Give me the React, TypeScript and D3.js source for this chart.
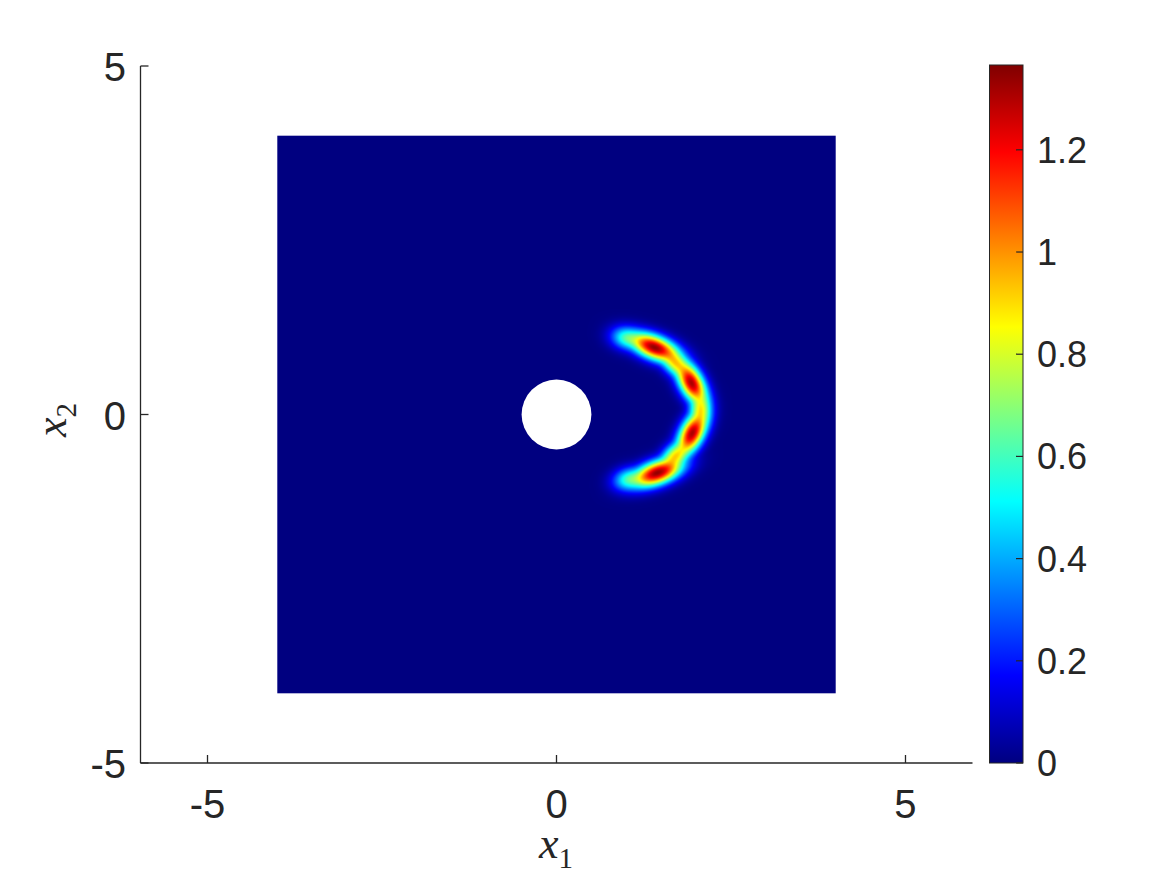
import React, { useMemo } from "react";
import * as d3 from "d3";

// ---- data ----
const xTicks = [-5, 0, 5];
const yTicks = [-5, 0, 5];
const cTicks = [0, 0.2, 0.4, 0.6, 0.8, 1, 1.2];
const xDomain = [-5.96, 5.96];
const yDomain = [-5, 5];
const cDomain = [0, 1.366];
const fieldExtent = [-4, 4];
const holeRadius = 0.5;

// ridge features (anisotropic gaussian bumps) read along the crescent
const blobX = [1.02, 1.4, 1.7, 1.93, 2.06, 1.94, 1.7, 1.44, 1.05];
const blobY = [1.09, 0.96, 0.74, 0.45, 0.07, -0.27, -0.6, -0.84, -0.93];
const blobAmp = [0.62, 1.34, 0.9, 1.31, 0.86, 1.31, 0.9, 1.34, 0.62];
const blobAngle = [-12, -22, -45, -62, -90, -117, -135, -160, -168];
const blobLong = [0.17, 0.27, 0.2, 0.24, 0.2, 0.24, 0.2, 0.27, 0.17];
const blobShort = [0.115, 0.12, 0.115, 0.12, 0.115, 0.12, 0.115, 0.12, 0.115];

const jetStops = [0, 0.125, 0.375, 0.625, 0.875, 1];
const jetColors = ["#000080", "#0000ff", "#00ffff", "#ffff00", "#ff0000", "#800000"];

const W = 1167;
const H = 875;
const axisColor = "#262626";
const sans = "'Liberation Sans', Arial, Helvetica, sans-serif";
const serif = "'Liberation Serif', 'DejaVu Serif', serif";

function fieldValue(px: number, py: number): number {
  let s = 0;
  for (let i = 0; i < blobX.length; i++) {
    const dx = px - blobX[i];
    const dy = py - blobY[i];
    const a = (blobAngle[i] * Math.PI) / 180;
    const u = dx * Math.cos(a) + dy * Math.sin(a);
    const v = -dx * Math.sin(a) + dy * Math.cos(a);
    const g =
      blobAmp[i] *
      Math.exp(-0.5 * ((u * u) / (blobLong[i] * blobLong[i]) + (v * v) / (blobShort[i] * blobShort[i])));
    s += g * g * g;
  }
  return Math.cbrt(s);
}

export default function App() {
  const x = d3.scaleLinear().domain(xDomain).range([140.5, 972.5]);
  const y = d3.scaleLinear().domain(yDomain).range([763, 66]);
  const c = d3.scaleLinear().domain(cDomain).range([763, 65]);
  const jet = d3
    .scaleLinear<string>()
    .domain(jetStops)
    .range(jetColors)
    .interpolate(d3.interpolateRgb)
    .clamp(true);

  const x0 = x(fieldExtent[0]);
  const x1 = x(fieldExtent[1]);
  const y0 = y(fieldExtent[1]);
  const y1 = y(fieldExtent[0]);

  const url = useMemo(() => {
    const w = Math.round(x1 - x0);
    const h = Math.round(y1 - y0);
    const canvas = document.createElement("canvas");
    canvas.width = w;
    canvas.height = h;
    const ctx = canvas.getContext("2d");
    if (!ctx) return "";
    const img = ctx.createImageData(w, h);
    const lut: number[][] = [];
    for (let k = 0; k < 512; k++) {
      const col = d3.rgb(jet(k / 511));
      lut.push([col.r, col.g, col.b]);
    }
    for (let j = 0; j < h; j++) {
      const py = y.invert(y0 + j + 0.5);
      for (let i = 0; i < w; i++) {
        const px = x.invert(x0 + i + 0.5);
        const val = fieldValue(px, py);
        const t = Math.max(0, Math.min(1, val / cDomain[1]));
        const col = lut[Math.round(t * 511)];
        const o = (j * w + i) * 4;
        img.data[o] = col[0];
        img.data[o + 1] = col[1];
        img.data[o + 2] = col[2];
        img.data[o + 3] = 255;
      }
    }
    ctx.putImageData(img, 0, 0);
    return canvas.toDataURL();
  }, []);

  const cbLeft = 989.5;
  const cbRight = 1023;
  const tickLen = 8;

  return (
    <svg
      width={W}
      height={H}
      style={{ position: "absolute", left: 0, top: 0, background: "#fff" }}
    >
      <defs>
        <linearGradient id="jetGrad" x1="0" y1="1" x2="0" y2="0">
          {jetStops.map((s, i) => (
            <stop key={i} offset={s} stopColor={jetColors[i]} />
          ))}
        </linearGradient>
      </defs>

      {/* heatmap */}
      <image
        href={url}
        x={x0}
        y={y0}
        width={x1 - x0}
        height={y1 - y0}
        preserveAspectRatio="none"
      />
      <circle cx={x(0)} cy={y(0)} r={x(holeRadius) - x(0)} fill="#fff" />

      {/* axes */}
      <line x1={x(xDomain[0])} x2={x(xDomain[1])} y1={y(yDomain[0])} y2={y(yDomain[0])} stroke={axisColor} strokeWidth={1.3} />
      <line x1={x(xDomain[0])} x2={x(xDomain[0])} y1={y(yDomain[0])} y2={y(yDomain[1])} stroke={axisColor} strokeWidth={1.3} />

      {xTicks.map((t) => (
        <g key={"xt" + t}>
          <line x1={x(t)} x2={x(t)} y1={y(yDomain[0])} y2={y(yDomain[0]) - tickLen} stroke={axisColor} strokeWidth={1.3} />
          <text x={x(t)} y={818} textAnchor="middle" fontFamily={sans} fontSize={40} fill={axisColor}>
            {t}
          </text>
        </g>
      ))}
      {yTicks.map((t) => (
        <g key={"yt" + t}>
          <line x1={x(xDomain[0])} x2={x(xDomain[0]) + tickLen} y1={y(t)} y2={y(t)} stroke={axisColor} strokeWidth={1.3} />
          <text x={126} y={y(t) + 15} textAnchor="end" fontFamily={sans} fontSize={40} fill={axisColor}>
            {t}
          </text>
        </g>
      ))}

      {/* axis labels */}
      <text x={556} y={858} textAnchor="middle" fontFamily={serif} fontSize={44} fill={axisColor}>
        <tspan fontStyle="italic">x</tspan>
        <tspan fontSize={29} dy={10}>1</tspan>
      </text>
      <text
        transform={`translate(66, 420) rotate(-90)`}
        textAnchor="middle"
        fontFamily={serif}
        fontSize={44}
        fill={axisColor}
      >
        <tspan fontStyle="italic">x</tspan>
        <tspan fontSize={29} dy={10}>2</tspan>
      </text>

      {/* colorbar */}
      <rect x={cbLeft} y={c(cDomain[1])} width={cbRight - cbLeft} height={c(0) - c(cDomain[1])} fill="url(#jetGrad)" stroke={axisColor} strokeWidth={1} />
      {cTicks.map((t) => (
        <g key={"ct" + t}>
          <line x1={cbRight - 7} x2={cbRight} y1={c(t)} y2={c(t)} stroke={axisColor} strokeWidth={1.2} />
          <text x={1037} y={c(t) + 13} textAnchor="start" fontFamily={sans} fontSize={36} fill={axisColor}>
            {t}
          </text>
        </g>
      ))}
    </svg>
  );
}
